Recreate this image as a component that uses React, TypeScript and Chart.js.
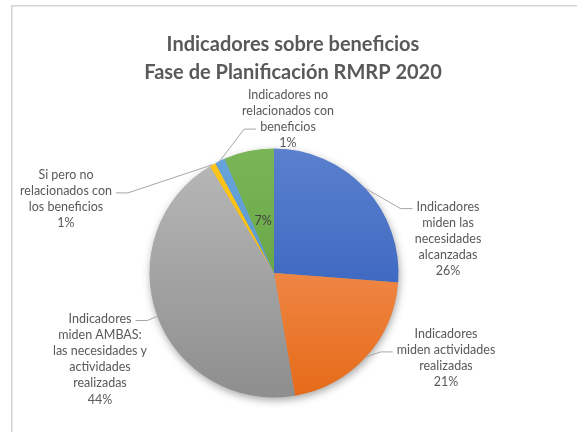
import React, { useEffect, useRef } from "react";
import { Chart, registerables } from "chart.js";

Chart.register(...registerables);

// ---- data ----
const titleLines = ["Indicadores sobre beneficios", "Fase de Planificación RMRP 2020"];

const categories = [
  "Indicadores miden las necesidades alcanzadas",
  "Indicadores miden actividades realizadas",
  "Indicadores miden AMBAS: las necesidades y actividades realizadas",
  "Si pero no relacionados con los beneficios",
  "Indicadores no relacionados con beneficios",
  "Otros",
];

// wrapped label text as displayed (empty = only percentage, inside)
const labelLines = [
  ["Indicadores", "miden las", "necesidades", "alcanzadas"],
  ["Indicadores", "miden actividades", "realizadas"],
  ["Indicadores", "miden AMBAS:", "las necesidades y", "actividades", "realizadas"],
  ["Si pero no", "relacionados con", "los beneficios"],
  ["Indicadores no", "relacionados con", "beneficios"],
  [],
];

const values = [26.2, 21.1, 44.1, 0.8, 1.3, 6.5];

const colorsTop = ["#5a80ce", "#f7a26f", "#b9b9b9", "#ffc61a", "#67a4da", "#7ab657"];
const colorsBottom = ["#2a58b8", "#e66a18", "#8e8e8e", "#f5b800", "#4f8fca", "#5a9935"];

// ---- label layout (offsets from pie centre, px) ----
const labelOffsets: [number, number][] = [
  [174, -34],
  [172, 85],
  [-174, 86],
  [-208, -74],
  [14, -154],
  [0, 0],
];
// which text line the leader attaches to, and on which side of the text
const attachLine = [0, 1, 0, 1, 2, -1];
const attachSide = ["left", "left", "right", "right", "left", "none"];

const FONT = 'Lato, "Liberation Sans", Arial, sans-serif';
const TEXT_COLOR = "#595959";
const LINE_H = 16.2;

// fit a font size so that a reference string has a target width
function fitSize(ctx: CanvasRenderingContext2D, weight: string, text: string, target: number) {
  ctx.font = `${weight} 20px ${FONT}`;
  const w = ctx.measureText(text).width;
  return (20 * target) / w;
}

const labelsPlugin = {
  id: "customLabels",
  beforeDraw(chart: any) {
    const ctx = chart.ctx;
    ctx.save();
    ctx.strokeStyle = "#d6d6d6";
    ctx.lineWidth = 1.5;
    ctx.strokeRect(11.75, 5.75, 700, 600);
    // title
    const ts = fitSize(ctx, "bold", titleLines[0], 253);
    ctx.fillStyle = TEXT_COLOR;
    ctx.font = `bold ${ts}px ${FONT}`;
    ctx.textAlign = "center";
    ctx.textBaseline = "middle";
    titleLines.forEach((t, i) => ctx.fillText(t, 293, 45 + i * 28));
    ctx.restore();
  },
  beforeDatasetsDraw(chart: any) {
    const meta = chart.getDatasetMeta(0);
    const arc = meta.data[0];
    if (!arc) return;
    const { x, y, outerRadius } = arc.getProps(["x", "y", "outerRadius"], true);
    const ctx = chart.ctx;
    ctx.save();
    ctx.shadowColor = "rgba(0,0,0,0.38)";
    ctx.shadowBlur = 9;
    ctx.shadowOffsetX = 1;
    ctx.shadowOffsetY = 3;
    ctx.fillStyle = "#999";
    ctx.beginPath();
    ctx.arc(x, y, outerRadius - 0.5, 0, Math.PI * 2);
    ctx.fill();
    ctx.restore();
  },
  afterDatasetsDraw(chart: any) {
    const ctx = chart.ctx;
    const meta = chart.getDatasetMeta(0);
    const total = values.reduce((a, b) => a + b, 0);
    ctx.save();
    const ls = fitSize(ctx, "normal", "Indicadores", 63);
    ctx.font = `${ls}px ${FONT}`;
    ctx.textAlign = "center";
    ctx.textBaseline = "middle";
    meta.data.forEach((el: any, i: number) => {
      const { x, y, startAngle, endAngle, outerRadius } = el.getProps(
        ["x", "y", "startAngle", "endAngle", "outerRadius"],
        true
      );
      const mid = (startAngle + endAngle) / 2;
      const pct = Math.round((values[i] / total) * 100) + "%";
      const lines = [...labelLines[i], pct];
      if (labelLines[i].length === 0) {
        const r = outerRadius * 0.43;
        ctx.fillStyle = "#404040";
        ctx.fillText(pct, x + Math.cos(mid) * r, y + Math.sin(mid) * r);
        return;
      }
      const cx = x + labelOffsets[i][0];
      const cy = y + labelOffsets[i][1];
      const n = lines.length;
      const lineY = (k: number) => cy + (k - (n - 1) / 2) * LINE_H;
      ctx.fillStyle = TEXT_COLOR;
      lines.forEach((t, k) => ctx.fillText(t, cx, lineY(k)));
      // leader line
      const li = attachLine[i];
      const w = ctx.measureText(lines[li]).width;
      const ay = lineY(li) + 2;
      const gap = 4;
      const seg = 12;
      let ax: number, ex: number;
      if (attachSide[i] === "left") {
        ax = cx - w / 2 - gap;
        ex = ax - seg;
      } else {
        ax = cx + w / 2 + gap;
        ex = ax + seg;
      }
      const px = x + Math.cos(mid) * outerRadius;
      const py = y + Math.sin(mid) * outerRadius;
      ctx.strokeStyle = "#a6a6a6";
      ctx.lineWidth = 1;
      ctx.beginPath();
      ctx.moveTo(px, py);
      ctx.lineTo(ex, ay);
      ctx.lineTo(ax, ay);
      ctx.stroke();
    });
    ctx.restore();
  },
};

export default function App() {
  const canvasRef = useRef<HTMLCanvasElement | null>(null);

  useEffect(() => {
    if (!canvasRef.current) return;
    const chart = new Chart(canvasRef.current, {
      type: "pie",
      data: {
        labels: categories,
        datasets: [
          {
            data: values,
            backgroundColor: (c: any) => {
              const i = c.dataIndex;
              const area = c.chart.chartArea;
              if (!area) return colorsTop[i];
              const g = c.chart.ctx.createLinearGradient(0, area.top, 0, area.bottom);
              g.addColorStop(0, colorsTop[i]);
              g.addColorStop(1, colorsBottom[i]);
              return g;
            },
            borderWidth: 0,
            hoverOffset: 0,
            offset: 0,
          },
        ],
      },
      options: {
        responsive: true,
        maintainAspectRatio: false,
        animation: false,
        events: [],
        layout: {
          padding: { left: 149.5, right: 178.5, top: 148.5, bottom: 34.5 },
        },
        plugins: {
          legend: { display: false },
          tooltip: { enabled: false },
          title: { display: false },
        },
      },
      plugins: [labelsPlugin],
    });
    return () => chart.destroy();
  }, []);

  return (
    <div style={{ position: "absolute", left: 0, top: 0, width: 577, height: 432, background: "#fff" }}>
      <canvas ref={canvasRef} />
    </div>
  );
}
